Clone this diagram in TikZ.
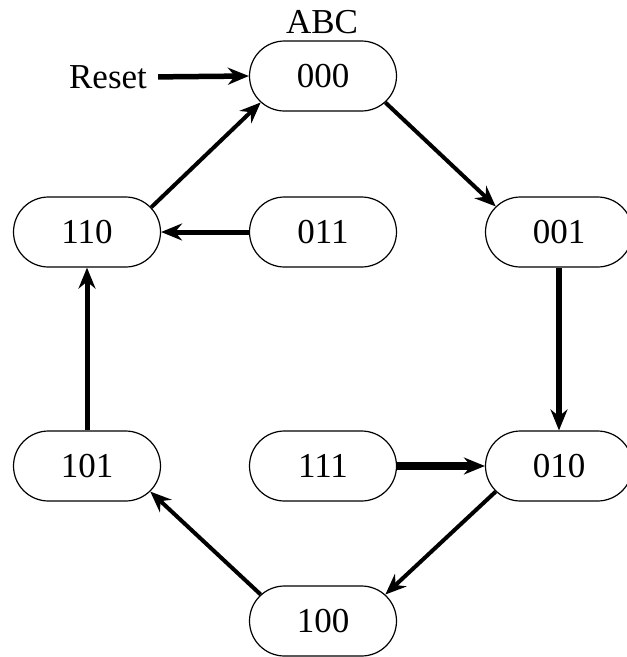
\documentclass[tikz,border=0pt]{standalone}
\usepackage{fontspec}
\setmainfont{Liberation Serif}
\usetikzlibrary{shapes.misc,arrows.meta}
\begin{document}
\begin{tikzpicture}[x=1pt,y=1pt,
  state/.style={rounded rectangle, draw, line width=1.2pt, minimum width=147pt,
    minimum height=70pt, inner sep=0pt, font=\fontsize{35}{40}\selectfont},
  lbl/.style={font=\fontsize{35}{40}\selectfont, inner sep=0pt},
  tip/.style={-{Stealth[length=21pt,width=17pt,inset=7pt]}},
  tr/.style={tip, line width=4pt}]
\useasboundingbox (0,0) rectangle (627,-657);
\node[state] (n000) at (323,-76) {000};
\node[state] (n110) at (87,-232) {110};
\node[state] (n011) at (323,-232) {011};
\node[state] (n001) at (559,-232) {001};
\node[state] (n101) at (87,-466) {101};
\node[state] (n111) at (323,-466) {111};
\node[state] (n010) at (559,-466) {010};
\node[state] (n100) at (323,-621) {100};
\node[lbl] (abc) at (322,-22) {ABC};
\node[lbl] (reset) at (108,-77) {Reset};
\draw[tr, line width=5.5pt, shorten <=11pt] (reset.east) -- (n000.west);
\draw[tr] (n000.-23) -- (n001.158);
\draw[tr, line width=6pt] (n001.south) -- (n010.north);
\draw[tr, line width=8pt] (n111.east) -- (n010.west);
\draw[tr] (n010.202) -- (n100.23);
\draw[tr] (n100.157) -- (n101.-22);
\draw[tr, line width=5pt] (n101.north) -- (n110.south);
\draw[tr, line width=5pt] (n011.west) -- (n110.east);
\draw[tr] (n110.21) -- (n000.203);
\end{tikzpicture}
\end{document}
